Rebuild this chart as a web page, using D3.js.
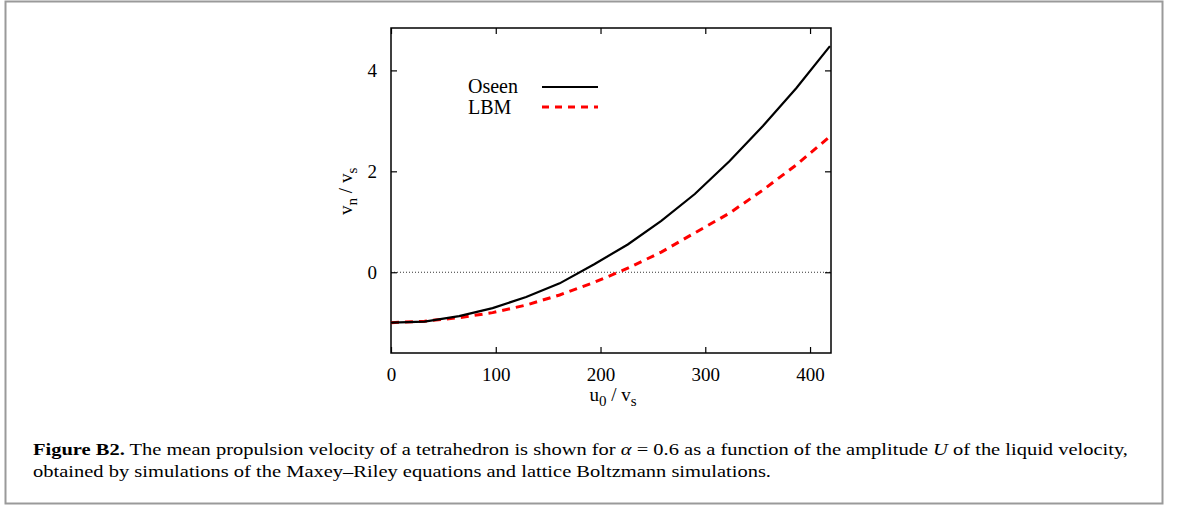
<!DOCTYPE html>
<html>
<head>
<meta charset="utf-8">
<script src="https://cdn.jsdelivr.net/npm/d3@7"></script>
<style>
  body { margin: 0; background: #fff; }
  svg { display: block; }
</style>
</head>
<body>
<div id="chart"></div>
<script>
// data
var uValues = [0, 32, 65, 97, 129, 161, 194, 226, 258, 290, 323, 355, 387, 419];
var oseen = [-1.0, -0.98, -0.87, -0.71, -0.49, -0.22, 0.16, 0.55, 1.02, 1.55, 2.2, 2.9, 3.65, 4.48];
var lbm = [-1.0, -0.97, -0.9, -0.8, -0.65, -0.45, -0.2, 0.08, 0.4, 0.78, 1.17, 1.63, 2.13, 2.69];
var xTicks = [0, 100, 200, 300, 400];
var yTicks = [0, 2, 4];
var legendNames = ["Oseen", "LBM"];

const W = 1179, H = 506;
const margin = { top: 28, right: 348, bottom: 153, left: 391 },
  width = W - margin.left - margin.right,
  height = H - margin.top - margin.bottom;

const svgRoot = d3.select("#chart").append("svg")
  .attr("width", W)
  .attr("height", H);

// outer grey frame of the figure
svgRoot.append("rect")
  .attr("x", 5.5).attr("y", 1.5)
  .attr("width", 1157).attr("height", 502)
  .attr("fill", "none")
  .attr("stroke", "#9a9a9a")
  .attr("stroke-width", 2);

const svg = svgRoot.append("g")
  .attr("transform", `translate(${margin.left}, ${margin.top})`);

const x = d3.scaleLinear().domain([0, 420]).range([0, width]);
const y = d3.scaleLinear().domain([-1.6, 4.84]).range([height, 0]);

const serif = "'Liberation Serif', 'Times New Roman', serif";

// zero line
svg.append("line")
  .attr("x1", 0).attr("x2", width)
  .attr("y1", y(0)).attr("y2", y(0))
  .attr("stroke", "#000")
  .attr("stroke-width", 0.8)
  .attr("stroke-dasharray", "1,2");

// axes with inward ticks
function styleAxis(g, hideText) {
  g.select(".domain").remove();
  g.selectAll(".tick line").attr("stroke", "#000").attr("stroke-width", 1.2);
  g.selectAll(".tick text")
    .attr("font-family", serif)
    .attr("font-size", "19px")
    .attr("fill", "#000");
  if (hideText) g.selectAll(".tick text").remove();
}

const fmt = d3.format("d");

svg.append("g")
  .attr("transform", `translate(0, ${height})`)
  .call(d3.axisBottom(x).tickValues(xTicks).tickFormat(fmt).tickSize(-6).tickPadding(15))
  .call(styleAxis, false);

svg.append("g")
  .call(d3.axisTop(x).tickValues(xTicks).tickSize(-6))
  .call(styleAxis, true);

svg.append("g")
  .call(d3.axisLeft(y).tickValues(yTicks).tickFormat(fmt).tickSize(-6).tickPadding(14))
  .call(styleAxis, false);

svg.append("g")
  .attr("transform", `translate(${width}, 0)`)
  .call(d3.axisRight(y).tickValues(yTicks).tickSize(-6))
  .call(styleAxis, true);

// frame
svg.append("rect")
  .attr("width", width).attr("height", height)
  .attr("fill", "none")
  .attr("stroke", "#000")
  .attr("stroke-width", 1.5);

// curves
const line = d3.line()
  .x(function (d) { return x(d[0]); })
  .y(function (d) { return y(d[1]); });

svg.append("path")
  .datum(d3.zip(uValues, lbm))
  .attr("d", line)
  .attr("fill", "none")
  .attr("stroke", "#ff0000")
  .attr("stroke-width", 3)
  .attr("stroke-dasharray", "8,6");

svg.append("path")
  .datum(d3.zip(uValues, oseen))
  .attr("d", line)
  .attr("fill", "none")
  .attr("stroke", "#000")
  .attr("stroke-width", 2.2);

// legend
const legend = svg.append("g").attr("transform", "translate(77, 59)");
const legendStyle = [
  { stroke: "#000", width: 2.2, dash: null },
  { stroke: "#ff0000", width: 3, dash: "7,6" }
];
legendNames.forEach(function (name, i) {
  legend.append("text")
    .attr("x", 0).attr("y", i * 21 + 6)
    .attr("font-family", serif)
    .attr("font-size", "20px")
    .text(name);
  legend.append("line")
    .attr("x1", 74).attr("x2", 130)
    .attr("y1", i * 20).attr("y2", i * 20)
    .attr("stroke", legendStyle[i].stroke)
    .attr("stroke-width", legendStyle[i].width)
    .attr("stroke-dasharray", legendStyle[i].dash);
});

// axis labels
const xl = svg.append("text")
  .attr("x", width / 2 + 2).attr("y", height + 48)
  .attr("text-anchor", "middle")
  .attr("font-family", serif)
  .attr("font-size", "19px");
xl.append("tspan").text("u");
xl.append("tspan").attr("dy", 5).attr("font-size", "15px").text("0");
xl.append("tspan").attr("dy", -5).text(" / v");
xl.append("tspan").attr("dy", 5).attr("font-size", "15px").text("s");

const yl = svg.append("text")
  .attr("transform", `translate(-39, ${y(2) + 20}) rotate(-90)`)
  .attr("text-anchor", "middle")
  .attr("font-family", serif)
  .attr("font-size", "19px");
yl.append("tspan").text("v");
yl.append("tspan").attr("dy", 5).attr("font-size", "15px").text("n");
yl.append("tspan").attr("dy", -5).text(" / v");
yl.append("tspan").attr("dy", 5).attr("font-size", "15px").text("s");

// caption
const capFont = "'Liberation Serif', 'Times New Roman', serif";
const cap1 = svgRoot.append("text")
  .attr("x", 33).attr("y", 455)
  .attr("font-family", capFont)
  .attr("font-size", "17px")
  .attr("textLength", 1095)
  .attr("lengthAdjust", "spacingAndGlyphs");
cap1.append("tspan").attr("font-weight", "bold").text("Figure B2.");
cap1.append("tspan").text(" The mean propulsion velocity of a tetrahedron is shown for ");
cap1.append("tspan").attr("font-style", "italic").text("\u03b1");
cap1.append("tspan").text(" = 0.6 as a function of the amplitude ");
cap1.append("tspan").attr("font-style", "italic").text("U");
cap1.append("tspan").text(" of the liquid velocity,");

svgRoot.append("text")
  .attr("x", 33).attr("y", 477)
  .attr("font-family", capFont)
  .attr("font-size", "17px")
  .attr("textLength", 738)
  .attr("lengthAdjust", "spacingAndGlyphs")
  .text("obtained by simulations of the Maxey\u2013Riley equations and lattice Boltzmann simulations.");
</script>
</body>
</html>
